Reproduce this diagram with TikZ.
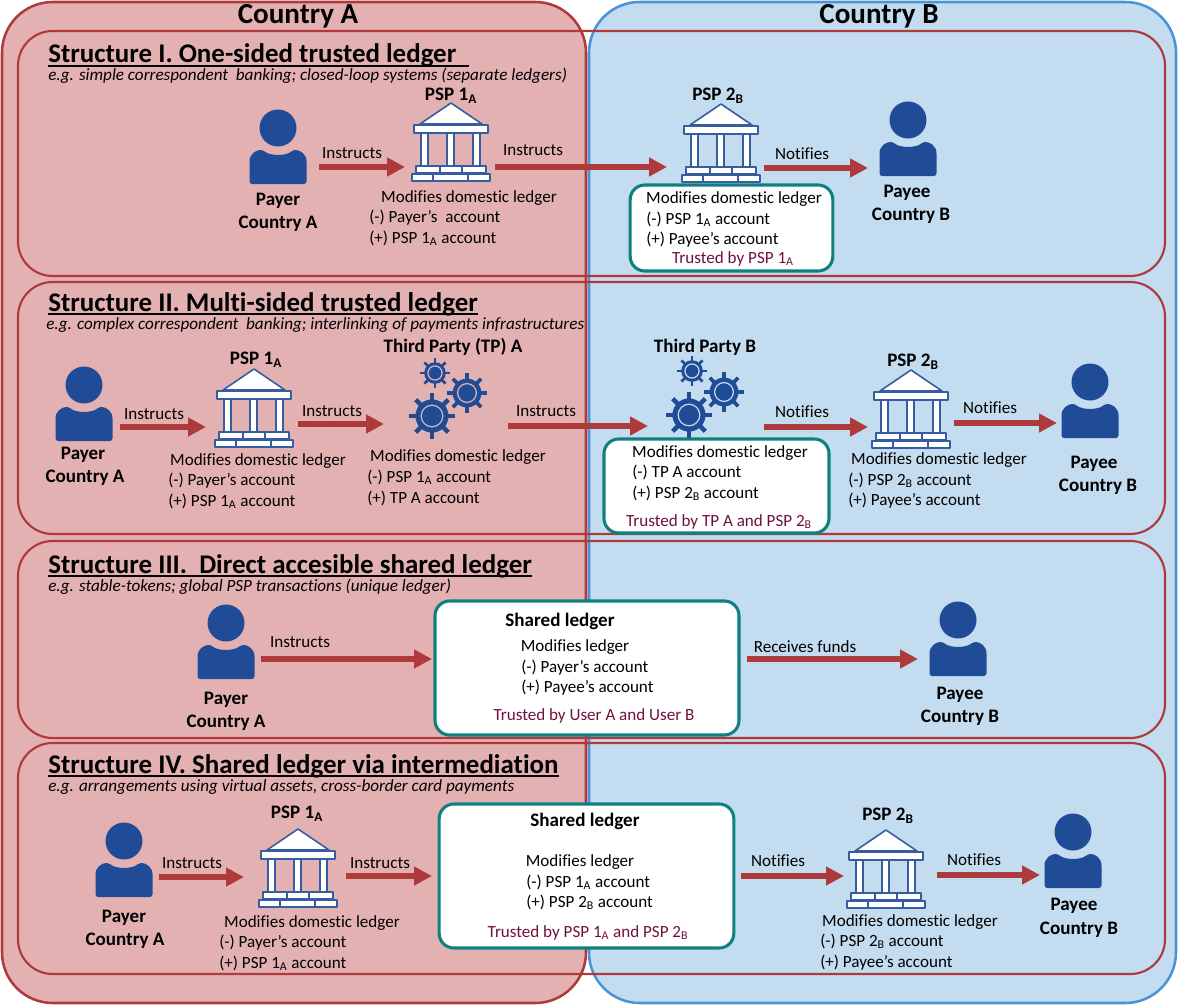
\documentclass[tikz,border=0pt]{standalone}
\usepackage{fontspec}
\setmainfont{Carlito}[Ligatures=NoCommon]
\usetikzlibrary{arrows.meta}
\definecolor{pinkfill}{HTML}{E4B1B2}
\definecolor{bluefill}{HTML}{C4DCF0}
\definecolor{redline}{HTML}{AE3A3C}
\definecolor{blueline}{HTML}{4A94D6}
\definecolor{teal1}{HTML}{0E8080}
\definecolor{iconblue}{HTML}{204B96}
\definecolor{trustc}{HTML}{70103F}
\newcommand\sbs[1]{\textsubscript{#1}}
\newcommand\ulhead[1]{\setbox0\hbox{#1}\rlap{\rule[-2.8pt]{\wd0}{1pt}}\box0}
\tikzset{
  x=0.75pt,y=-0.75pt,
  country/.style={line width=1.9pt,rounded corners=38pt},
  structbox/.style={draw=redline,line width=1.6pt,rounded corners=26pt},
  ledgerbox/.style={draw=teal1,fill=white,line width=2.3pt,rounded corners=11pt},
  conn/.style={draw=redline,line width=4.7pt,-{Triangle[length=13.5pt,width=13.5pt]}},
  title/.style={font=\fontsize{21.8}{24}\selectfont\bfseries,inner sep=0pt,yshift=-1pt},
  heading/.style={anchor=base west,inner sep=0pt,font=\fontsize{20.2}{23}\selectfont\bfseries},
  subhead/.style={anchor=west,inner sep=0pt,font=\fontsize{12.85}{14}\selectfont\itshape},
  lab/.style={inner sep=0pt,font=\fontsize{12.8}{15}\selectfont},
  txt/.style={lab,yshift=-1.5pt},
  ltxt/.style={lab,anchor=west,yshift=-0.9pt},
  btxt/.style={inner sep=0pt,font=\fontsize{14.3}{17}\selectfont\bfseries,yshift=-1.5pt},
  trust/.style={txt,text=trustc},
  pics/person/.style={code={
    \fill[iconblue] (0,0) circle [radius=18.5];
    \fill[iconblue,rounded corners=2pt] (-28.5,56) -- (-28.5,36)
      .. controls (-28.5,26) and (-22,22) .. (-15,22)
      .. controls (-8,28) and (8,28) .. (15,22)
      .. controls (22,22) and (28.5,26) .. (28.5,36) -- (28.5,56) -- cycle;
  }},
  pics/bank/.style={code={
    \begin{scope}[draw=iconblue!90!white,fill=white,line width=1.2pt,line join=round]
    \filldraw (0,0) -- (31,21) -- (-31,21) -- cycle;
    \filldraw (-23,63) rectangle (-30,30);
    \filldraw (-4,63) rectangle (3,30);
    \filldraw (22,63) rectangle (29,30);
    \filldraw (-37,22) rectangle (37,30);
    \filldraw (-35,63) rectangle (-11,70);
    \filldraw (-11,63) rectangle (11,70);
    \filldraw (11,63) rectangle (35,70);
    \filldraw (-39,71) rectangle (-18,78);
    \filldraw (-18,71) rectangle (17,78);
    \filldraw (17,71) rectangle (39,78);
    \end{scope}
  }},
  pics/cog/.style 2 args={code={
    \foreach \a in {0,45,...,315}
      \draw[iconblue,line width=#1*0.14pt] (\a:#1*0.6) -- (\a:#1);
    \fill[iconblue] (0,0) circle [radius=#1*0.72];
    \draw[#2,line width=0.9pt] (0,0) circle [radius=#1*0.47];
  }},
}
\begin{document}
\begin{tikzpicture}
\useasboundingbox (0,0) rectangle (1179,1006);
% countries
\path[country,fill=bluefill,draw=blueline] (589,2) rectangle (1176,1003);
\path[country,fill=pinkfill,draw=redline] (2,2) rectangle (586,1003);
\node[title] (ca) at (298,15) {Country A};
\node[title] (cb) at (879,15) {Country B};
% structures
\draw[structbox] (18,31) rectangle (1165,276);
\draw[structbox] (18,282) rectangle (1165,534);
\draw[structbox] (18,541) rectangle (1165,738);
\draw[structbox] (18,743) rectangle (1165,974);
% ledgers
\node[ledgerbox,minimum width=152pt,minimum height=64.5pt] (lb1) at (731.5,228) {};
\node[ledgerbox,minimum width=168.75pt,minimum height=70.5pt] (lb2) at (716.5,486) {};
\node[ledgerbox,minimum width=228pt,minimum height=100.5pt] (lb3) at (587,668) {};
\node[ledgerbox,minimum width=221pt,minimum height=108pt] (lb4) at (586.5,876) {};
% icons
\pic at (278,128) {person};
\pic at (908,120) {person};
\pic at (84,385) {person};
\pic at (1090,382) {person};
\pic at (226,623) {person};
\pic at (958,620) {person};
\pic at (124,841) {person};
\pic at (1073,832) {person};
\pic at (451,103) {bank};
\pic at (721,104) {bank};
\pic at (254,369) {bank};
\pic at (911,370) {bank};
\pic at (298,829) {bank};
\pic at (886,830) {bank};
\pic at (435,373) {cog={15}{pinkfill}};
\pic at (467,393) {cog={20}{pinkfill}};
\pic at (432,416) {cog={23}{pinkfill}};
\pic at (692,371) {cog={15}{bluefill}};
\pic at (724,392) {cog={20}{bluefill}};
\pic at (689,415) {cog={23}{bluefill}};
% connector ends
\coordinate (s1a) at (319,167); \coordinate (e1a) at (405,167);
\coordinate (s1b) at (495,167); \coordinate (e1b) at (667,167);
\coordinate (s1c) at (764,168); \coordinate (e1c) at (868,168);
\coordinate (s2a) at (120,427); \coordinate (e2a) at (206,427);
\coordinate (s2b) at (298,424); \coordinate (e2b) at (384,424);
\coordinate (s2c) at (508,426); \coordinate (e2c) at (648,426);
\coordinate (s2d) at (764,427); \coordinate (e2d) at (868,427);
\coordinate (s2e) at (954,423); \coordinate (e2e) at (1057,423);
\coordinate (s3a) at (261,659); \coordinate (e3a) at (432,659);
\coordinate (s3b) at (747,659); \coordinate (e3b) at (918,659);
\coordinate (s4a) at (159,877); \coordinate (e4a) at (244,877);
\coordinate (s4b) at (346,876); \coordinate (e4b) at (432,876);
\coordinate (s4c) at (741,876); \coordinate (e4c) at (844,876);
\coordinate (s4d) at (937,875); \coordinate (e4d) at (1040,875);
\foreach \k in {1a,1b,1c,2a,2b,2c,2d,2e,3a,3b,4a,4b,4c,4d}
  \draw[conn] (s\k) -- (e\k);
% Structure I
\node[heading] (h1) at (48,63) {\ulhead{Structure I. One-sided trusted ledger\ \ }};
\node[subhead] (u1) at (48,76) {e.g. simple correspondent\ \ banking; closed-loop systems (separate ledgers)};
\node[btxt] (p11) at (451,94) {PSP 1\sbs{A}};
\node[btxt] (p12) at (718,94) {PSP 2\sbs{B}};
\node[btxt] (py1) at (278,199) {Payer};
\node[btxt] (pc1) at (278,222) {Country A};
\node[lab] (i11) at (352,153) {Instructs};
\node[lab] (i12) at (533,150) {Instructs};
\node[lab] (n11) at (802,154) {Notifies};
\node[btxt] (pe1) at (907,191) {Payee};
\node[btxt] (pf1) at (911,214) {Country B};
\node[txt] (m11) at (469,196) {Modifies domestic ledger};
\node[ltxt] (a11) at (369,216) {(-) Payer’s\ \ account};
\node[ltxt] (b11) at (369,237) {(+) PSP 1\sbs{A} account};
\node[txt] (m12) at (734,197) {Modifies domestic ledger};
\node[ltxt] (a12) at (646,218) {(-) PSP 1\sbs{A} account};
\node[ltxt] (b12) at (646,238) {(+) Payee’s account};
\node[trust] (t1) at (733,257) {Trusted by PSP 1\sbs{A}};
% Structure II
\node[heading] (h2) at (48,311) {\ulhead{Structure II. Multi-sided trusted ledger}};
\node[subhead] (u2) at (46,325) {e.g. complex correspondent\ \ banking; interlinking of payments infrastructures};
\node[btxt] (p21) at (256,358) {PSP 1\sbs{A}};
\node[btxt] (tp1) at (453,345) {Third Party (TP) A};
\node[btxt] (tp2) at (705,345) {Third Party B};
\node[btxt] (p22) at (913,360) {PSP 2\sbs{B}};
\node[btxt] (py2) at (83,453) {Payer};
\node[btxt] (pc2) at (85,476) {Country A};
\node[lab] (i21) at (154,414) {Instructs};
\node[lab] (i22) at (332,411) {Instructs};
\node[lab] (i23) at (546,411) {Instructs};
\node[lab] (n21) at (802,412) {Notifies};
\node[lab] (n22) at (990,408) {Notifies};
\node[txt] (m21) at (258,459) {Modifies domestic ledger};
\node[ltxt] (a21) at (168,479) {(-) Payer’s account};
\node[ltxt] (b21) at (168,500) {(+) PSP 1\sbs{A} account};
\node[txt] (m22) at (458,455) {Modifies domestic ledger};
\node[ltxt] (a22) at (367,476) {(-) PSP 1\sbs{A} account};
\node[ltxt] (b22) at (367,497) {(+) TP A account};
\node[txt] (m23) at (720,451) {Modifies domestic ledger};
\node[ltxt] (a23) at (632,471) {(-) TP A account};
\node[ltxt] (b23) at (632,492) {(+) PSP 2\sbs{B} account};
\node[trust] (t2) at (719,520) {Trusted by TP A and PSP 2\sbs{B}};
\node[txt] (m24) at (939,458) {Modifies domestic ledger};
\node[ltxt] (a24) at (848,479) {(-) PSP 2\sbs{B} account};
\node[ltxt] (b24) at (848,499) {(+) Payee’s account};
\node[btxt] (pe2) at (1094,462) {Payee};
\node[btxt] (pf2) at (1098,485) {Country B};
% Structure III
\node[heading] (h3) at (48,573) {\ulhead{Structure III.\ \ Direct accesible shared ledger}};
\node[subhead] (u3) at (48,587) {e.g. stable-tokens; global PSP transactions (unique ledger)};
\node[btxt] (py3) at (226,698) {Payer};
\node[btxt] (pc3) at (226,721) {Country A};
\node[lab] (i31) at (300,642) {Instructs};
\node[btxt] (sl3) at (560,619) {Shared ledger};
\node[txt] (m31) at (575,645) {Modifies ledger};
\node[ltxt] (a31) at (521,666) {(-) Payer’s account};
\node[ltxt] (b31) at (521,686) {(+) Payee’s account};
\node[trust] (t3) at (594,714) {Trusted by User A and User B};
\node[lab] (r3) at (805,647) {Receives funds};
\node[btxt] (pe3) at (960,693) {Payee};
\node[btxt] (pf3) at (960,716) {Country B};
% Structure IV
\node[heading] (h4) at (48,773) {\ulhead{Structure IV. Shared ledger via intermediation}};
\node[subhead] (u4) at (48,787) {e.g. arrangements using virtual assets, cross-border card payments};
\node[btxt] (p41) at (297,812) {PSP 1\sbs{A}};
\node[btxt] (py4) at (124,916) {Payer};
\node[btxt] (pc4) at (125,939) {Country A};
\node[lab] (i41) at (192,863) {Instructs};
\node[lab] (i42) at (380,863) {Instructs};
\node[lab] (n41) at (778,861) {Notifies};
\node[lab] (n42) at (974,860) {Notifies};
\node[txt] (m41) at (312,921) {Modifies domestic ledger};
\node[ltxt] (a41) at (219,941) {(-) Payer’s account};
\node[ltxt] (b41) at (219,962) {(+) PSP 1\sbs{A} account};
\node[btxt] (sl4) at (585,819) {Shared ledger};
\node[txt] (m42) at (580,860) {Modifies ledger};
\node[ltxt] (a42) at (526,881) {(-) PSP 1\sbs{A} account};
\node[ltxt] (b42) at (526,901) {(+) PSP 2\sbs{B} account};
\node[trust] (t4) at (588,931) {Trusted by PSP 1\sbs{A} and PSP 2\sbs{B}};
\node[btxt] (p42) at (888,814) {PSP 2\sbs{B}};
\node[txt] (m43) at (910,920) {Modifies domestic ledger};
\node[ltxt] (a43) at (820,940) {(-) PSP 2\sbs{B} account};
\node[ltxt] (b43) at (820,961) {(+) Payee’s account};
\node[btxt] (pe4) at (1074,904) {Payee};
\node[btxt] (pf4) at (1079,928) {Country B};
\end{tikzpicture}
\end{document}
